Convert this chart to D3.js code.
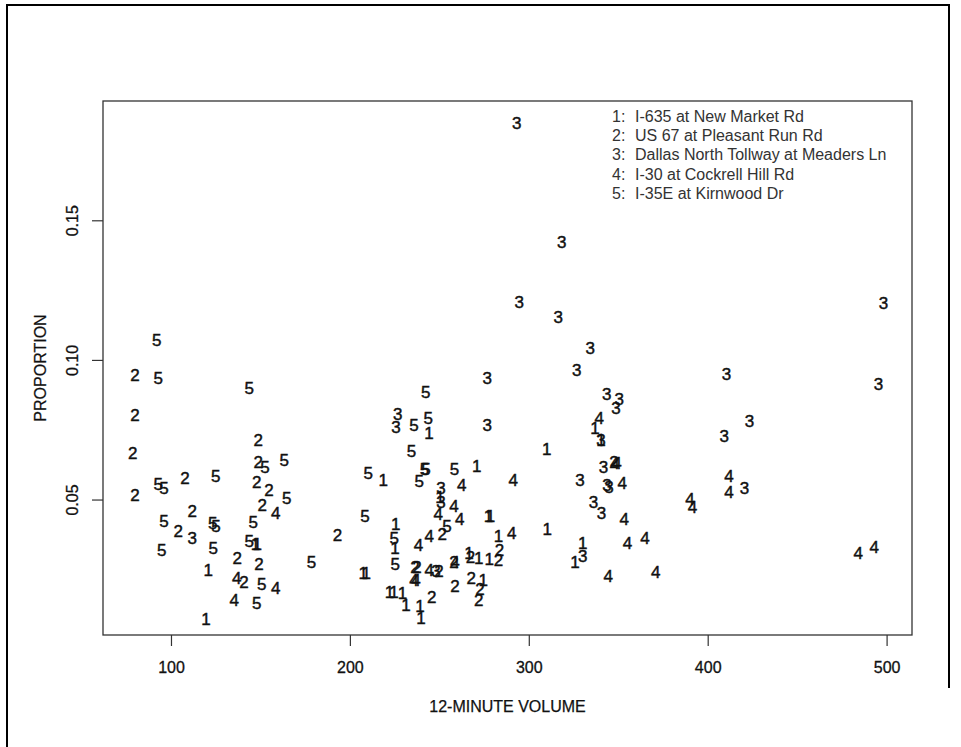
<!DOCTYPE html>
<html>
<head>
  <meta charset="utf-8">
  <title>Proportion vs 12-minute volume</title>
  <script src="https://d3js.org/d3.v7.min.js"></script>
  <style>
    body { margin: 0; background: #fff; }
    svg text { font-family: "Liberation Sans", Arial, sans-serif; }
  </style>
</head>
<body>
  <div id="chart"></div>

  <script>
    // site names for the legend
    var siteNames = [
      'I-635 at New Market Rd',
      'US 67 at Pleasant Run Rd',
      'Dallas North Tollway at Meaders Ln',
      'I-30 at Cockrell Hill Rd',
      'I-35E at Kirnwood Dr'
    ];

    // 12-minute volume / proportion, one pair of arrays per site
    var vol1 = [218.7, 147.3, 148.2, 120.8, 207.5, 209.2, 119.6, 222.1, 224.7, 229.4, 231.4, 239.2, 239.7, 244.2, 270.9, 277.5, 278.6, 225.6, 225.2, 266.6, 272.0, 277.9, 283.0, 274.6, 310.0, 310.3, 330.1, 325.8, 337.0, 340.4, 250.3];
    var prop1 = [0.0573, 0.0344, 0.0344, 0.0249, 0.0239, 0.0239, 0.0074, 0.0171, 0.0171, 0.0169, 0.0124, 0.0120, 0.0078, 0.0741, 0.0621, 0.0442, 0.0442, 0.0414, 0.0327, 0.0311, 0.0294, 0.0288, 0.0372, 0.0215, 0.0685, 0.0396, 0.0345, 0.0279, 0.0757, 0.0717, 0.0511];

    var vol2 = [79.9, 79.9, 78.6, 79.9, 148.8, 148.8, 107.8, 147.9, 154.8, 151.0, 111.9, 104.1, 193.1, 137.1, 149.2, 140.8, 251.6, 236.4, 237.5, 249.8, 258.2, 267.4, 283.0, 283.6, 258.7, 267.8, 272.7, 272.0, 245.7, 347.6];
    var prop2 = [0.0948, 0.0804, 0.0669, 0.0520, 0.0715, 0.0637, 0.0581, 0.0566, 0.0538, 0.0482, 0.0461, 0.0390, 0.0375, 0.0293, 0.0270, 0.0207, 0.0378, 0.0261, 0.0261, 0.0246, 0.0278, 0.0296, 0.0286, 0.0323, 0.0191, 0.0220, 0.0181, 0.0142, 0.0154, 0.0638];

    var vol3 = [293.2, 318.4, 294.7, 316.5, 334.4, 326.8, 276.8, 498.2, 495.4, 410.5, 423.3, 409.2, 420.5, 226.7, 225.8, 276.8, 250.9, 250.9, 248.1, 111.9, 343.5, 350.6, 348.7, 340.4, 341.7, 328.6, 343.7, 344.8, 336.1, 340.7, 330.1];
    var prop3 = [0.1849, 0.1425, 0.1210, 0.1156, 0.1046, 0.0967, 0.0938, 0.1206, 0.0915, 0.0953, 0.0783, 0.0728, 0.0542, 0.0808, 0.0761, 0.0770, 0.0542, 0.0493, 0.0246, 0.0365, 0.0880, 0.0861, 0.0830, 0.0717, 0.0619, 0.0573, 0.0554, 0.0547, 0.0494, 0.0455, 0.0300];

    var vol4 = [158.5, 136.7, 158.5, 135.4, 262.5, 291.3, 258.2, 261.4, 249.4, 244.4, 238.4, 235.8, 236.9, 244.4, 258.7, 290.4, 339.4, 348.2, 349.3, 352.3, 353.4, 355.1, 365.0, 344.4, 370.9, 390.1, 391.5, 411.9, 411.9, 484.2, 493.1];
    var prop4 = [0.0455, 0.0220, 0.0184, 0.0142, 0.0554, 0.0572, 0.0480, 0.0433, 0.0452, 0.0372, 0.0338, 0.0214, 0.0214, 0.0249, 0.0278, 0.0384, 0.0793, 0.0632, 0.0632, 0.0562, 0.0431, 0.0345, 0.0363, 0.0228, 0.0243, 0.0504, 0.0474, 0.0585, 0.0531, 0.0311, 0.0331];

    var vol5 = [92.9, 92.0, 143.8, 163.3, 152.5, 92.9, 96.1, 125.0, 164.7, 96.1, 123.3, 125.2, 146.0, 210.3, 208.4, 143.7, 94.8, 123.6, 178.6, 150.7, 147.9, 242.4, 235.8, 243.8, 234.5, 241.7, 242.6, 238.8, 258.5, 254.3, 224.8, 225.4];
    var prop5 = [0.0936, 0.1075, 0.0900, 0.0643, 0.0619, 0.0557, 0.0542, 0.0586, 0.0506, 0.0426, 0.0417, 0.0408, 0.0422, 0.0598, 0.0443, 0.0352, 0.0321, 0.0327, 0.0279, 0.0198, 0.0130, 0.0888, 0.0770, 0.0793, 0.0675, 0.0610, 0.0610, 0.0570, 0.0610, 0.0407, 0.0366, 0.0271];

    var xTicks = [100, 200, 300, 400, 500];
    var yTicks = [0.05, 0.10, 0.15];

    var W = 961, H = 747;
    var box = { left: 103, top: 101, right: 912, bottom: 635 };

    var svg = d3.select('#chart').append('svg')
      .attr('width', W)
      .attr('height', H);

    // frame around the whole figure (right side stops short, as in the scan)
    svg.append('path')
      .attr('d', 'M7,747 V5 H949 V688')
      .attr('fill', 'none')
      .attr('stroke', '#000')
      .attr('stroke-width', 2);

    var x = d3.scaleLinear().domain([62.0, 514.2]).range([box.left, box.right]);
    var y = d3.scaleLinear().domain([0.00167, 0.1929]).range([box.bottom, box.top]);

    // plot box
    svg.append('rect')
      .attr('x', box.left)
      .attr('y', box.top)
      .attr('width', box.right - box.left)
      .attr('height', box.bottom - box.top)
      .attr('fill', 'none')
      .attr('stroke', '#333')
      .attr('stroke-width', 1.3);

    // x axis
    var gx = svg.append('g')
      .attr('transform', 'translate(0,' + box.bottom + ')')
      .call(d3.axisBottom(x).tickValues(xTicks).tickSize(11).tickPadding(16).tickFormat(d3.format('d')));
    gx.select('.domain').remove();
    gx.selectAll('line').attr('stroke', '#333').attr('stroke-width', 1.2);
    gx.selectAll('text')
      .attr('font-size', 16)
      .attr('fill', '#111')
      .attr('stroke', '#111')
      .attr('stroke-width', 0.3);

    // y axis, labels turned like base R
    var gy = svg.append('g')
      .attr('transform', 'translate(' + box.left + ',0)')
      .call(d3.axisLeft(y).tickValues(yTicks).tickSize(11).tickFormat(d3.format('.2f')));
    gy.select('.domain').remove();
    gy.selectAll('.tick').attr('transform', null);
    gy.selectAll('.tick line')
      .attr('stroke', '#333')
      .attr('stroke-width', 1.2)
      .attr('transform', function(d) { return 'translate(0,' + y(d) + ')'; });
    gy.selectAll('text')
      .attr('font-size', 16)
      .attr('fill', '#111')
      .attr('stroke', '#111')
      .attr('stroke-width', 0.3)
      .attr('text-anchor', 'middle')
      .attr('x', function(d) { return -y(d); })
      .attr('y', -31)
      .attr('dy', '0.35em')
      .attr('transform', 'rotate(-90)');

    // axis titles
    svg.append('text')
      .attr('x', (box.left + box.right) / 2)
      .attr('y', 706)
      .attr('dy', '0.35em')
      .attr('text-anchor', 'middle')
      .attr('font-size', 16)
      .attr('fill', '#111')
      .attr('stroke', '#111')
      .attr('stroke-width', 0.25)
      .text('12-MINUTE VOLUME');

    svg.append('text')
      .attr('transform', 'translate(40,' + (box.top + box.bottom) / 2 + ') rotate(-90)')
      .attr('dy', '0.35em')
      .attr('text-anchor', 'middle')
      .attr('font-size', 16)
      .attr('fill', '#111')
      .attr('stroke', '#111')
      .attr('stroke-width', 0.25)
      .text('PROPORTION');

    // points drawn as the site number
    var sites = [
      { id: '1', vol: vol1, prop: prop1 },
      { id: '2', vol: vol2, prop: prop2 },
      { id: '3', vol: vol3, prop: prop3 },
      { id: '4', vol: vol4, prop: prop4 },
      { id: '5', vol: vol5, prop: prop5 }
    ];

    var pts = [];
    sites.forEach(function(s) {
      s.vol.forEach(function(v, i) {
        pts.push({ id: s.id, vol: v, prop: s.prop[i] });
      });
    });

    svg.append('g').selectAll('text')
      .data(pts)
      .enter()
      .append('text')
      .attr('x', function(d) { return x(d.vol); })
      .attr('y', function(d) { return y(d.prop); })
      .attr('dy', '0.36em')
      .attr('text-anchor', 'middle')
      .attr('font-size', 17)
      .attr('fill', '#111')
      .attr('stroke', '#111')
      .attr('stroke-width', 0.45)
      .text(function(d) { return d.id; });

    // legend, top right inside the box
    var leg = svg.append('g').attr('transform', 'translate(612,116)');
    var rows = leg.selectAll('g')
      .data(siteNames)
      .enter()
      .append('g')
      .attr('transform', function(d, i) { return 'translate(0,' + (i * 19.4) + ')'; });
    rows.append('text')
      .attr('dy', '0.35em')
      .attr('font-size', 16)
      .attr('fill', '#333')
      .text(function(d, i) { return (i + 1) + ':'; });
    rows.append('text')
      .attr('x', 23)
      .attr('dy', '0.35em')
      .attr('font-size', 16)
      .attr('fill', '#333')
      .text(function(d) { return d; });
  </script>
</body>
</html>
